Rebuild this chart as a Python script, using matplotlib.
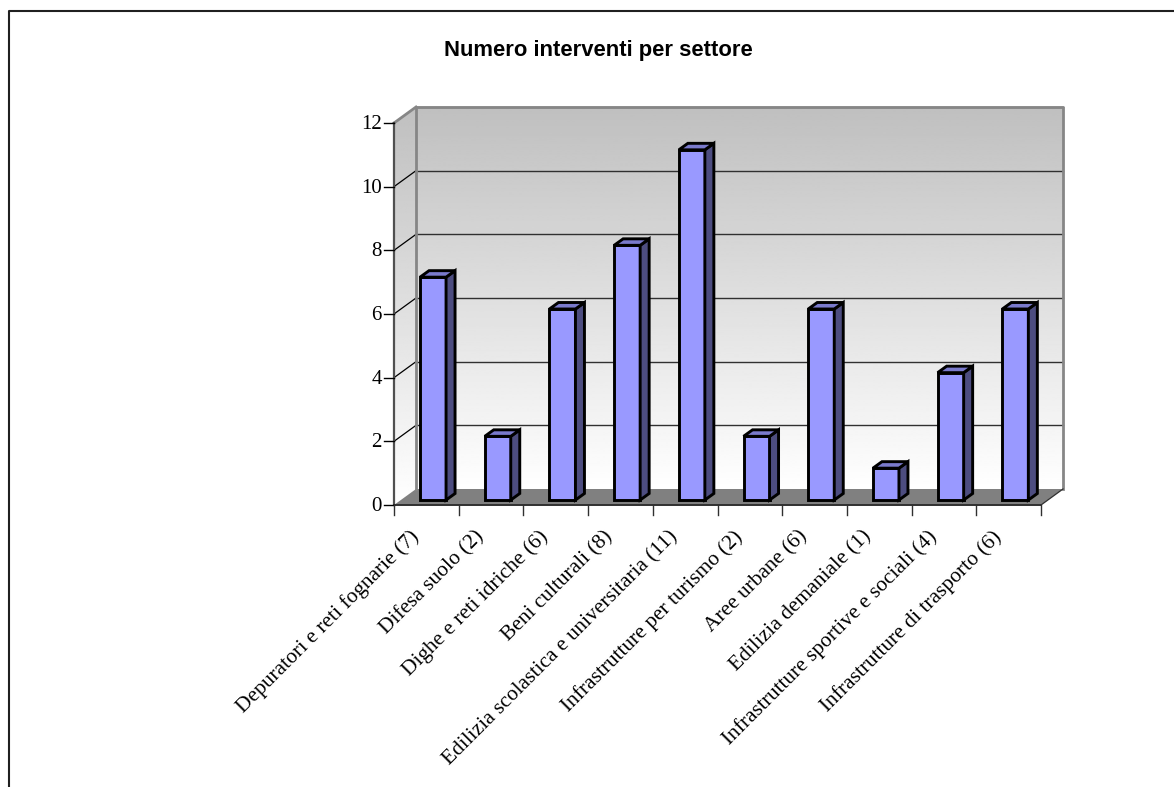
import matplotlib
matplotlib.use("Agg")
import matplotlib.pyplot as plt
from matplotlib.patches import Polygon
from matplotlib.transforms import ScaledTranslation
import numpy as np

categories = ["Depuratori e reti fognarie (7)", "Difesa suolo (2)", "Dighe e reti idriche (6)",
              "Beni culturali (8)", "Edilizia scolastica e universitaria (11)",
              "Infrastrutture per turismo (2)", "Aree urbane (6)", "Edilizia demaniale (1)",
              "Infrastrutture sportive e sociali (4)", "Infrastrutture di trasporto (6)"]
values = [7, 2, 6, 8, 11, 2, 6, 1, 4, 6]
yticks = [0, 2, 4, 6, 8, 10, 12]

W, H = 1174, 787
DPI = 100
LEFT, RIGHT, BOTTOM, TOP = 394, 1041, 505, 123
DEPTH_X, DEPTH_Y = 22, 16

fig = plt.figure(figsize=(W / DPI, H / DPI), dpi=DPI)
fig.patch.set_facecolor("white")
ax = fig.add_axes([LEFT / W, 1 - BOTTOM / H, (RIGHT - LEFT) / W, (BOTTOM - TOP) / H])
ax.set_xlim(0, len(values))
ax.set_ylim(0, 12)
ax.axis("off")


# shift data coordinates towards the back of the box, depth in pixels
def shifted(dx, dy):
    return ax.transData + ScaledTranslation(dx / DPI, dy / DPI, fig.dpi_scale_trans)


# outer frame: only the top and left sides show
fig.add_artist(plt.Line2D([8.5 / W, 8.5 / W, 1], [0, 1 - 11 / H, 1 - 11 / H], transform=fig.transFigure,
                          color="#202020", lw=1.5))

n = len(values)
back = shifted(DEPTH_X, DEPTH_Y)
grad = np.linspace(0.75, 1.0, 256).reshape(-1, 1)

# back wall
ax.imshow(grad, extent=(0, n, 0, 12), origin="upper", cmap="gray", vmin=0, vmax=1,
          aspect="auto", transform=back, zorder=1, clip_on=False, interpolation="bilinear")

# side wall with the same shading, clipped to its outline
x0, y0 = ax.transData.transform((0, 0))
x1, y1 = ax.transData.transform((n, 0))
x2, y2 = ax.transData.transform((0, 12))
x3, y3 = ax.transData.transform((n, 12))
side = Polygon([(x0, y0), (x2, y2), (x2 + DEPTH_X, y2 + DEPTH_Y), (x0 + DEPTH_X, y0 + DEPTH_Y)],
               closed=True, transform=None, fc="none", ec="none")
fig.add_artist(side)
im = ax.imshow(grad, extent=(0, DEPTH_X / 64.7, 0, 12.5), origin="upper", cmap="gray", vmin=0, vmax=1,
               aspect="auto", zorder=1, clip_on=True, interpolation="bilinear")
im.set_clip_box(fig.bbox)
im.set_clip_path(side)
ax.set_xlim(0, n)
ax.set_ylim(0, 12)

# gridlines on the back wall and the side wall
for v in yticks[1:]:
    ax.plot([0, n], [v, v], color="#303030", lw=1, transform=back, zorder=2, clip_on=False)
for v in yticks[1:-1]:
    xa, ya = ax.transData.transform((0, v))
    ax.add_line(plt.Line2D([xa, xa + DEPTH_X], [ya, ya + DEPTH_Y], color="black", lw=0.9,
                           transform=None, zorder=2, clip_on=False))

# floor
ax.add_patch(Polygon([(x0, y0), (x1, y1), (x1 + DEPTH_X, y1 + DEPTH_Y), (x0 + DEPTH_X, y0 + DEPTH_Y)],
                     closed=True, transform=None, fc="#808080", ec="none", zorder=2, clip_on=False))

# box edges
edge = "#868686"
ax.add_line(plt.Line2D([x0 + DEPTH_X, x0 + DEPTH_X, x3 + DEPTH_X, x3 + DEPTH_X],
                       [y0 + DEPTH_Y, y2 + DEPTH_Y, y3 + DEPTH_Y, y0 + DEPTH_Y],
                       color=edge, lw=2, transform=None, zorder=3, clip_on=False))
ax.add_line(plt.Line2D([x2, x2 + DEPTH_X], [y2, y2 + DEPTH_Y], color=edge, lw=2, transform=None,
                       zorder=3, clip_on=False))
ax.add_line(plt.Line2D([x2, x0], [y2, y0], color="#505050", lw=1.6, transform=None, zorder=3, clip_on=False))
ax.add_line(plt.Line2D([x0, x1], [y0, y1], color="#303030", lw=1.4, transform=None, zorder=3, clip_on=False))
ax.add_line(plt.Line2D([x1, x1 + DEPTH_X], [y1, y1 + DEPTH_Y], color="#303030", lw=0.9, transform=None,
                       zorder=3, clip_on=False))

# 3D bars: front, side and top faces
front_dx, front_dy = 6.7, 5
bar_w = 26 / 64.7
depth_x, depth_y = 9, 6.5
for i, v in enumerate(values):
    xl, yb = ax.transData.transform((i + 0.5 - bar_w / 2, 0))
    xr, yt = ax.transData.transform((i + 0.5 + bar_w / 2, v))
    xl, xr = xl + front_dx, xr + front_dx
    yb, yt = yb + front_dy, yt + front_dy
    style = dict(closed=True, transform=None, ec="black", lw=2.1, joinstyle="miter",
                 zorder=5 + i * 0.01, clip_on=False)
    ax.add_patch(Polygon([(xl, yb), (xr, yb), (xr, yt), (xl, yt)], fc="#9999ff", **style))
    ax.add_patch(Polygon([(xr, yb), (xr + depth_x, yb + depth_y), (xr + depth_x, yt + depth_y), (xr, yt)],
                         fc="#4d4d80", **style))
    ax.add_patch(Polygon([(xl, yt), (xr, yt), (xr + depth_x, yt + depth_y), (xl + depth_x, yt + depth_y)],
                         fc="#7a7acc", **style))

# y ticks and labels
for v in yticks:
    ax.plot([-10 / 64.7, 0], [v, v], color="black", lw=1, clip_on=False, zorder=3)
    ax.annotate(str(v), (0, v), xytext=(-12, -1.5), textcoords="offset pixels", ha="right", va="center",
                fontsize=15, family="Liberation Serif", color="black", annotation_clip=False)

# x ticks and rotated labels
for i in range(n + 1):
    ax.plot([i, i], [0, -10 / 31.83], color="#303030", lw=1, clip_on=False, zorder=3)
for i, label in enumerate(categories):
    ax.annotate(label, (i + 0.5, 0), xytext=(-17, -22), textcoords="offset pixels", ha="right", va="top",
                rotation=45, rotation_mode="anchor", fontsize=15.4, family="Liberation Serif",
                color="black", annotation_clip=False)

fig.text(598 / W, 1 - 50.5 / H, "Numero interventi per settore", ha="center", va="center",
         fontsize=15.8, fontweight="bold", family="Liberation Sans")

fig.savefig("out.png", dpi=DPI)
